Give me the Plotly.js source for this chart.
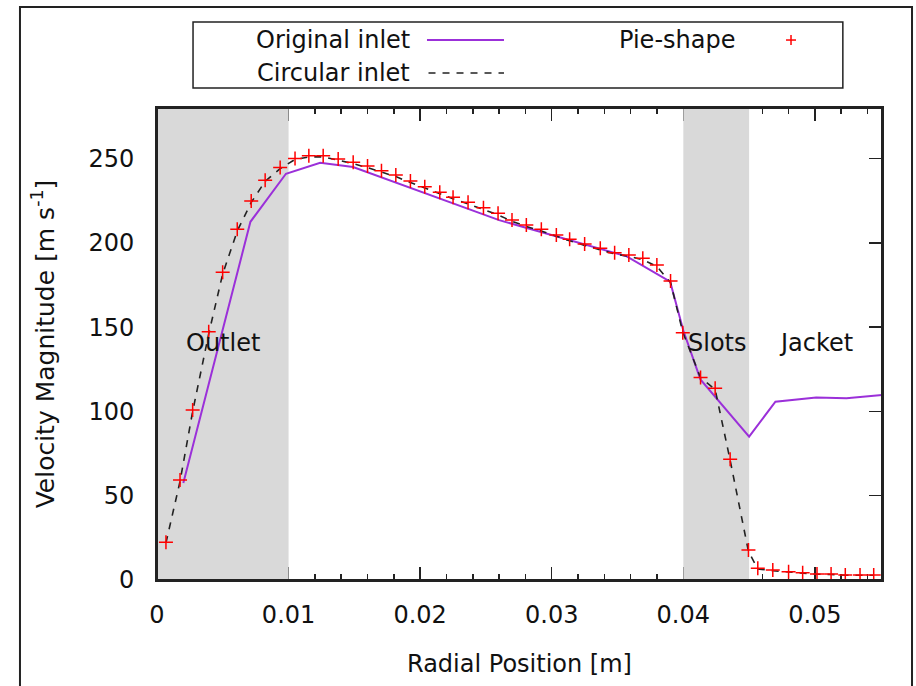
<!DOCTYPE html>
<html>
<head>
<meta charset="utf-8">
<script src="https://cdn.plot.ly/plotly-3.0.1.min.js"></script>
<style>html,body{margin:0;padding:0;background:#fff;}#chart{width:916px;height:686px;}</style>
</head>
<body>
<div id="chart"></div>
<script>
// ---- data ----
var origX = [0.0020, 0.0071, 0.0098, 0.0124, 0.0149, 0.0260, 0.0357, 0.0390, 0.0400, 0.0413, 0.0450, 0.0470, 0.0501, 0.0524, 0.0551];
var origY = [57.5, 212.5, 241, 247.5, 245, 213.5, 192, 177, 148, 119, 85, 105.8, 108.3, 107.8, 109.7];

var circX = [0.00068, 0.00175, 0.00271, 0.00393, 0.00499, 0.0061, 0.00716, 0.00822, 0.00936, 0.01049, 0.01154, 0.01263, 0.01377, 0.01491, 0.016, 0.01706, 0.01815, 0.01926, 0.02035, 0.02149, 0.0225, 0.02364, 0.02481, 0.02592, 0.02698, 0.02807, 0.02921, 0.03035, 0.03136, 0.0325, 0.03369, 0.03478, 0.03586, 0.03692, 0.03799, 0.03903, 0.03996, 0.04131, 0.04242, 0.04356, 0.04495, 0.04566, 0.0468, 0.048, 0.04907, 0.05016, 0.05123, 0.05231, 0.05343, 0.05447];
var circY = [22, 58.5, 100, 146, 181.5, 207, 224, 236.5, 244, 249.5, 251, 251, 249, 247, 244.6, 241.9, 239.3, 235.8, 232.4, 229.1, 226.1, 223.1, 219.9, 216.6, 212.8, 209.7, 207.1, 203.8, 201.2, 198.5, 196, 193.4, 192, 190, 186, 176.5, 147, 120, 113, 71, 17, 6.5, 5.5, 4.6, 4, 3.4, 3.3, 2.8, 2.8, 2.8];

var pieX = [0.00068, 0.00175, 0.00271, 0.00393, 0.00499, 0.0061, 0.00716, 0.00822, 0.00936, 0.01049, 0.01154, 0.01263, 0.01377, 0.01491, 0.016, 0.01706, 0.01815, 0.01926, 0.02035, 0.02149, 0.0225, 0.02364, 0.02481, 0.02592, 0.02698, 0.02807, 0.02921, 0.03035, 0.03136, 0.0325, 0.03369, 0.03478, 0.03586, 0.03692, 0.03799, 0.03903, 0.03996, 0.04131, 0.04242, 0.04356, 0.04495, 0.04566, 0.0468, 0.048, 0.04907, 0.05016, 0.05123, 0.05231, 0.05343, 0.05447];
var pieY = [22.4, 59.3, 100.8, 147.3, 182.5, 208.0, 224.8, 237.1, 244.7, 250.0, 251.7, 251.7, 249.7, 247.8, 245.6, 242.8, 240.3, 236.7, 233.3, 230.0, 227.0, 224.1, 220.9, 217.5, 213.6, 210.6, 208.0, 204.7, 202.1, 199.3, 196.8, 194.2, 192.8, 190.8, 186.9, 177.4, 146.7, 120.2, 113.7, 71.6, 17.8, 6.9, 5.9, 4.9, 4.3, 3.6, 3.6, 3.0, 3.0, 3.0];

var seriesNames = ['Original inlet', 'Circular inlet', 'Pie-shape'];

var regionNames = ['Outlet', 'Slots', 'Jacket'];
var regionLabelX = [0.0050, 0.0426, 0.0501];
var regionLabelY = [140.6, 140.6, 140.6];
var shadeStart = [0.0, 0.040];
var shadeEnd = [0.010, 0.045];

var xTickVals = [0, 0.01, 0.02, 0.03, 0.04, 0.05];
var xTickText = ['0', '0.01', '0.02', '0.03', '0.04', '0.05'];
var yTickVals = [0, 50, 100, 150, 200, 250];
var yTickText = ['0', '50', '100', '150', '200', '250'];

var xRange = [0, 0.0551];
var yRange = [0, 280];

// ---- traces ----
var traces = [];
for (var i = 0; i < shadeStart.length; i++) {
  traces.push({
    x: [shadeStart[i], shadeEnd[i], shadeEnd[i], shadeStart[i], shadeStart[i]],
    y: [yRange[0], yRange[0], yRange[1], yRange[1], yRange[0]],
    mode: 'lines', fill: 'toself', fillcolor: '#d9d9d9',
    line: {width: 0, color: '#d9d9d9'}, hoverinfo: 'skip', showlegend: false
  });
}
traces.push({
  x: origX, y: origY, name: seriesNames[0], mode: 'lines',
  line: {color: '#9b30d9', width: 2}
});
traces.push({
  x: circX, y: circY, name: seriesNames[1], mode: 'lines',
  line: {color: '#222', width: 1.6, dash: '7px,7px'}
});
traces.push({
  x: pieX, y: pieY, name: seriesNames[2], mode: 'markers',
  marker: {symbol: 'cross-thin', size: 10, color: 'red', line: {color: 'red', width: 1.5}}
});

// ---- manual gnuplot-style key ----
var keyBox = {x0: 0.0497, x1: 0.946, y0: 1.0424, y1: 1.1822};
var shapes = [
  {type: 'rect', xref: 'paper', yref: 'paper', x0: 0, x1: 1, y0: 0, y1: 1, line: {color: '#222', width: 2}, layer: 'above'},
  {type: 'rect', xref: 'paper', yref: 'paper', x0: -0.189, x1: 1.0414, y0: -0.3, y1: 1.214, line: {color: '#222', width: 2}, layer: 'above'},
  {type: 'rect', xref: 'paper', yref: 'paper', x0: keyBox.x0, x1: keyBox.x1, y0: keyBox.y0, y1: keyBox.y1, line: {color: '#222', width: 1.5}, fillcolor: 'white', layer: 'above'},
  {type: 'line', xref: 'paper', yref: 'paper', x0: 0.3724, x1: 0.4786, y0: 1.144, y1: 1.144, line: {color: '#9b30d9', width: 2}, layer: 'above'},
  {type: 'line', xref: 'paper', yref: 'paper', x0: 0.3745, x1: 0.4786, y0: 1.0742, y1: 1.0742, line: {color: '#222', width: 1.6, dash: '7px,7px'}, layer: 'above'},
  {type: 'line', xref: 'paper', yref: 'paper', x0: 0.8745 - 0.0069, x1: 0.8745 + 0.0069, y0: 1.144, y1: 1.144, line: {color: 'red', width: 1.5}, layer: 'above'},
  {type: 'line', xref: 'paper', yref: 'paper', x0: 0.8745, x1: 0.8745, y0: 1.144 - 0.0106, y1: 1.144 + 0.0106, line: {color: 'red', width: 1.5}, layer: 'above'}
];

var annotations = [
  {xref: 'paper', yref: 'paper', x: 0.3517, y: 1.144, xanchor: 'right', yanchor: 'middle', text: seriesNames[0], showarrow: false},
  {xref: 'paper', yref: 'paper', x: 0.3517, y: 1.0742, xanchor: 'right', yanchor: 'middle', text: seriesNames[1], showarrow: false},
  {xref: 'paper', yref: 'paper', x: 0.80, y: 1.144, xanchor: 'right', yanchor: 'middle', text: seriesNames[2], showarrow: false}
];
for (var j = 0; j < regionNames.length; j++) {
  annotations.push({xref: 'x', yref: 'y', x: regionLabelX[j], y: regionLabelY[j], text: regionNames[j], showarrow: false, xanchor: 'center', yanchor: 'middle'});
}

var axisCommon = {
  ticks: 'inside', ticklen: 13, tickwidth: 1.5, tickcolor: '#222',
  showline: true, linecolor: '#222', linewidth: 2, mirror: 'ticks',
  showgrid: false, zeroline: false, layer: 'below traces', tickmode: 'array'
};

var layout = {
  width: 916, height: 686,
  margin: {l: 157, r: 34, t: 108, b: 106, pad: 0},
  paper_bgcolor: 'white', plot_bgcolor: 'white',
  font: {family: 'DejaVu Sans, Verdana, sans-serif', size: 24, color: '#111'},
  showlegend: false,
  xaxis: Object.assign({}, axisCommon, {
    range: xRange, tickvals: xTickVals, ticktext: xTickText,
    ticklabelstandoff: 12,
    minor: {dtick: 0.002, tick0: 0, ticks: 'inside', ticklen: 6, tickwidth: 1.5, tickcolor: '#222'},
    title: {text: 'Radial Position [m]', standoff: 27, font: {size: 24}}
  }),
  yaxis: Object.assign({}, axisCommon, {
    range: yRange, tickvals: yTickVals, ticktext: yTickText,
    ticklabelstandoff: 16,
    title: {text: 'Velocity Magnitude [m s<sup>-1</sup>]', standoff: 27, font: {size: 25}}
  }),
  shapes: shapes,
  annotations: annotations
};

Plotly.newPlot('chart', traces, layout, {staticPlot: true, displayModeBar: false});
</script>
</body>
</html>
